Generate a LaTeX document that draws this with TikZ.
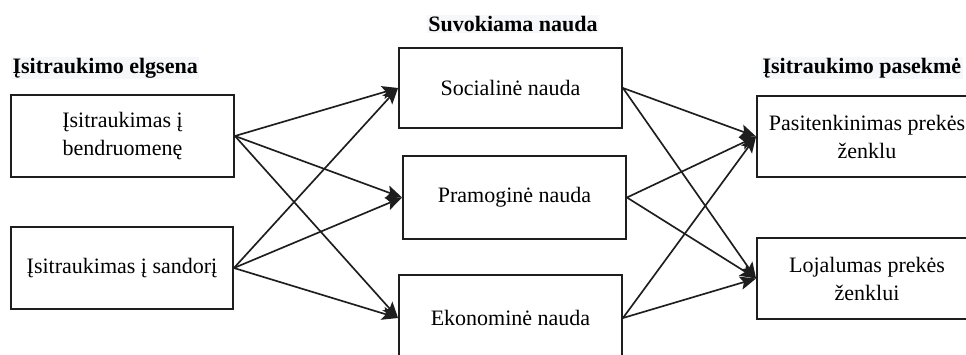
\documentclass[tikz,border=0pt]{standalone}
\usepackage{fontspec}
\setmainfont{Liberation Serif}
\usetikzlibrary{arrows.meta}
\definecolor{ink}{RGB}{30,30,30}
\definecolor{hl}{RGB}{245,247,250}
\begin{document}
\begin{tikzpicture}[x=0.75pt,y=-0.75pt,
  box/.style={draw=ink,line width=1.4pt,inner sep=0pt,align=center,font=\fontsize{16.5}{21}\selectfont},
  head/.style={font=\bfseries\fontsize{16.5}{19}\selectfont,inner sep=1pt,fill=hl},
  link/.style={draw=ink,line width=1.25pt,-{Stealth[length=12pt,width=10pt,inset=2.5pt]}}]
\useasboundingbox (0,0) rectangle (966,354);
\clip (0,0) rectangle (966,354);
% column headings
\node[head,anchor=west] (h1) at (11,68) {Įsitraukimo elgsena};
\node[head] (h2) at (513,24) {Suvokiama nauda};
\node[head,anchor=west] (h3) at (761,68) {Įsitraukimo pasekmė};
% engagement behaviour
\node[box,minimum width={223*0.75pt},minimum height={82*0.75pt}] (b1) at (122.5,136) {Įsitraukimas į\\bendruomenę};
\node[box,minimum width={222*0.75pt},minimum height={82*0.75pt}] (b2) at (122,268) {Įsitraukimas į sandorį};
% perceived value
\node[box,minimum width={223*0.75pt},minimum height={80*0.75pt}] (s1) at (510.5,88) {Socialinė nauda};
\node[box,minimum width={223*0.75pt},minimum height={83*0.75pt}] (s2) at (514.5,197.5) {Pramoginė nauda};
\node[box,minimum width={223*0.75pt},minimum height={86*0.75pt}] (s3) at (510.5,318) {Ekonominė nauda};
% engagement outcomes
\node[box,minimum width={220*0.75pt},minimum height={81*0.75pt}] (r1) at (867,136.5) {Pasitenkinimas prekės\\ženklu};
\node[box,minimum width={220*0.75pt},minimum height={81*0.75pt}] (r2) at (867,278.5) {Lojalumas prekės\\ženklui};
% links
\foreach \a in {b1,b2} \foreach \b in {s1,s2,s3} \draw[link] (\a.east) -- (\b.west);
\foreach \a in {s1,s2,s3} \foreach \b in {r1,r2} \draw[link] (\a.east) -- (\b.west);
\end{tikzpicture}
\end{document}
